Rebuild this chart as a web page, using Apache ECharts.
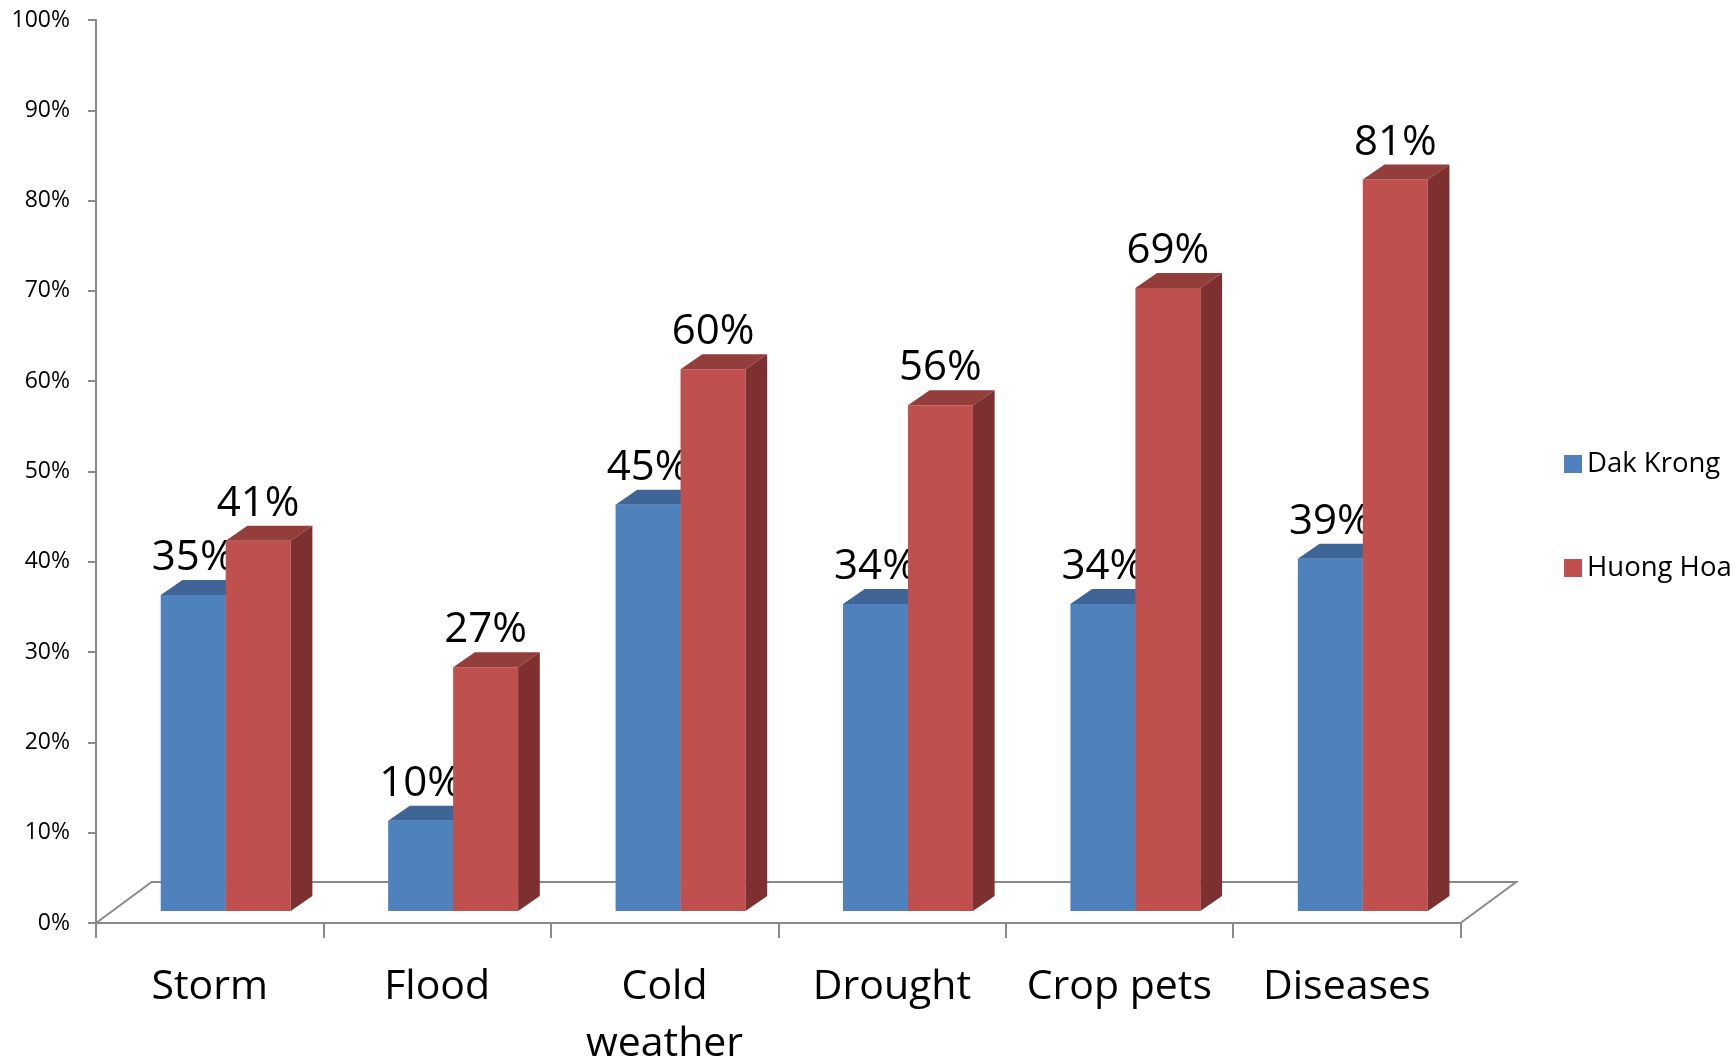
<!DOCTYPE html>
<html>
<head>
<meta charset="utf-8">
<script src="https://cdn.jsdelivr.net/npm/echarts@6/dist/echarts.min.js"></script>
<style>
  html, body { margin: 0; padding: 0; background: #ffffff; }
  #chart { width: 1736px; height: 1061px; }
</style>
</head>
<body>
<div id="chart"></div>
<script>
// Hazard categories and share of respondents per district (%)
const categories = ['Storm', 'Flood', 'Cold\nweather', 'Drought', 'Crop pets', 'Diseases'];
const dakKrong = [35, 10, 45, 34, 34, 39];
const huongHoa = [41, 27, 60, 56, 69, 81];
const seriesNames = ['Dak Krong', 'Huong Hoa'];

// Colours for the three visible faces of each 3D column
const faces = {
  'Dak Krong': { front: '#4F81BD', top: '#3E6595', side: '#385E8B' },
  'Huong Hoa': { front: '#C0504D', top: '#943E3C', side: '#7D302F' }
};

const FONT = '"Open Sans", "Liberation Sans", sans-serif';
const AXIS_GREY = '#8a8a8a';

// Oblique projection: front plane of the columns sits a little behind the floor edge
const FRONT_DX = 16, FRONT_DY = -12;
const DEPTH_DX = 21.7, DEPTH_DY = -15;
const FLOOR_DX = 55.7, FLOOR_DY = -41;

function columnRenderer(slot, name) {
  const c = faces[name];
  return function (params, api) {
    const cat = api.value(0);
    const v = api.value(1);
    const topPt = api.coord([cat, v]);
    const basePt = api.coord([cat, 0]);
    const bw = api.size([1, 0])[0] / 3.5;
    const x0 = topPt[0] + slot * bw + FRONT_DX;
    const x1 = x0 + bw;
    const yb = basePt[1] + FRONT_DY;
    const yt = topPt[1] + FRONT_DY;
    return {
      type: 'group',
      children: [
        { type: 'rect', shape: { x: x0, y: yt, width: bw, height: yb - yt },
          style: { fill: c.front } },
        { type: 'polygon', shape: { points: [[x0, yt], [x0 + DEPTH_DX, yt + DEPTH_DY], [x1 + DEPTH_DX, yt + DEPTH_DY], [x1, yt]] },
          style: { fill: c.top } },
        { type: 'polygon', shape: { points: [[x1, yt], [x1 + DEPTH_DX, yt + DEPTH_DY], [x1 + DEPTH_DX, yb + DEPTH_DY], [x1, yb]] },
          style: { fill: c.side } },
        { type: 'text', z2: 100,
          style: { text: v + '%', x: x0 + bw / 2, y: yt + DEPTH_DY - 22,
                   align: 'center', verticalAlign: 'middle',
                   font: '42px ' + FONT, fill: '#000000' } }
      ]
    };
  };
}

function floorRenderer(params, api) {
  const cs = params.coordSys;
  const l = cs.x, r = cs.x + cs.width, b = cs.y + cs.height;
  const line = { stroke: AXIS_GREY, lineWidth: 2, fill: null };
  return {
    type: 'group',
    children: [
      { type: 'polyline', shape: { points: [[l, b], [l + FLOOR_DX, b + FLOOR_DY], [r + FLOOR_DX, b + FLOOR_DY], [r, b]] },
        style: line }
    ]
  };
}

const chart = echarts.init(document.getElementById('chart'), null, { renderer: 'canvas' });

chart.setOption({
  animation: false,
  backgroundColor: '#ffffff',
  grid: { left: 96, right: 275.5, top: 20, bottom: 138, containLabel: false, outerBoundsMode: 'none' },
  legend: {
    data: seriesNames,
    orient: 'vertical',
    left: 1564,
    top: 449,
    icon: 'rect',
    itemWidth: 18,
    itemHeight: 18,
    itemGap: 74,
    textStyle: { fontFamily: FONT, fontSize: 27.5, color: '#000000', lineHeight: 30, padding: [0, 0, 0, 0] },
    padding: 0
  },
  xAxis: {
    type: 'category',
    data: categories,
    boundaryGap: true,
    axisLine: { show: true, lineStyle: { color: AXIS_GREY, width: 2 } },
    axisTick: { show: true, length: 15, lineStyle: { color: AXIS_GREY, width: 2 } },
    axisLabel: { fontFamily: FONT, fontSize: 41, color: '#000000', lineHeight: 57, margin: 36, interval: 0 },
    splitLine: { show: false }
  },
  yAxis: {
    type: 'value',
    min: 0,
    max: 100,
    interval: 10,
    axisLine: { show: true, lineStyle: { color: AXIS_GREY, width: 2 } },
    axisTick: { show: true, length: 8, lineStyle: { color: AXIS_GREY, width: 2 } },
    axisLabel: { formatter: '{value}%', fontFamily: FONT, fontSize: 23, color: '#000000', margin: 26 },
    splitLine: { show: false }
  },
  series: [
    {
      name: 'floor', type: 'custom', z: 1, silent: true,
      renderItem: floorRenderer,
      data: [[0, 0]]
    },
    {
      name: seriesNames[0], type: 'custom', z: 2,
      itemStyle: { color: faces[seriesNames[0]].front },
      renderItem: columnRenderer(-1, seriesNames[0]),
      data: dakKrong.map((v, i) => [i, v])
    },
    {
      name: seriesNames[1], type: 'custom', z: 3,
      itemStyle: { color: faces[seriesNames[1]].front },
      renderItem: columnRenderer(0, seriesNames[1]),
      data: huongHoa.map((v, i) => [i, v])
    }
  ]
});
</script>
</body>
</html>
